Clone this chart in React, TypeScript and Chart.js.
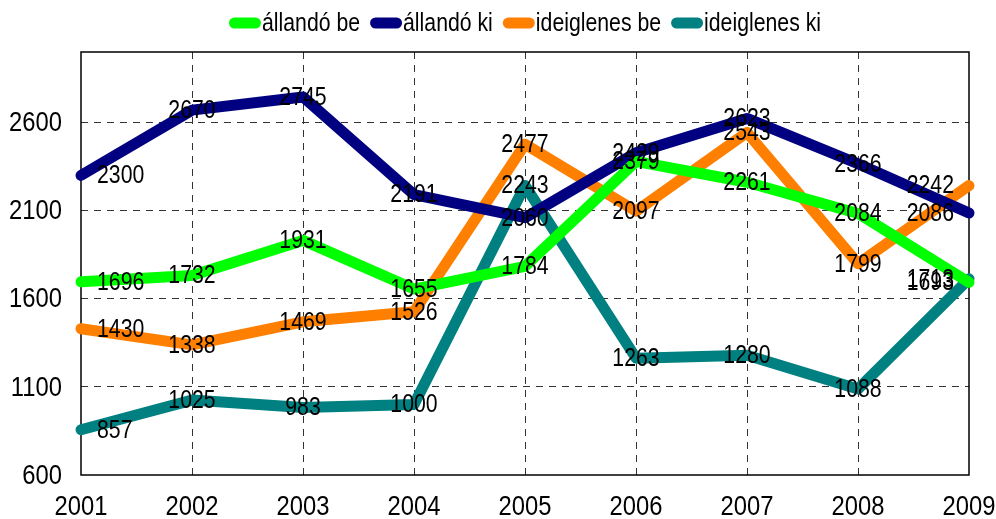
import React, { useEffect, useRef } from 'react';
import { Chart, registerables } from 'chart.js';

Chart.register(...registerables);

const years = ['2001', '2002', '2003', '2004', '2005', '2006', '2007', '2008', '2009'];
const allandoBe = [1696, 1732, 1931, 1655, 1784, 2379, 2261, 2084, 1693];
const allandoKi = [2300, 2670, 2745, 2191, 2060, 2429, 2623, 2366, 2086];
const ideiglenesBe = [1430, 1338, 1469, 1526, 2477, 2097, 2543, 1799, 2242];
const ideiglenesKi = [857, 1025, 983, 1000, 2243, 1263, 1280, 1088, 1713];
const seriesNames = ['állandó be', 'állandó ki', 'ideiglenes be', 'ideiglenes ki'];
const seriesValues = [allandoBe, allandoKi, ideiglenesBe, ideiglenesKi];
const seriesColors = ['#00ff00', '#000080', '#ff8000', '#008080'];
const yTicks = [600, 1100, 1600, 2100, 2600];
const yMin = 600;
const yMax = 3000;

const FONT = "'Liberation Sans', Arial, sans-serif";
const SX = 0.85;

function narrowText(ctx: any, text: string, x: number, y: number, align: string, size: number) {
  ctx.save();
  ctx.font = `${size}px ${FONT}`;
  ctx.fillStyle = '#000';
  ctx.textBaseline = 'middle';
  ctx.textAlign = align;
  ctx.translate(x, y);
  ctx.scale(SX, 1);
  ctx.fillText(text, 0, 0);
  ctx.restore();
}

function narrowWidth(ctx: any, text: string, size: number) {
  ctx.save();
  ctx.font = `${size}px ${FONT}`;
  const w = ctx.measureText(text).width * SX;
  ctx.restore();
  return w;
}

const framePlugin = {
  id: 'frame',
  beforeDatasetsDraw(chart: any) {
    const { ctx, chartArea } = chart;
    ctx.save();
    ctx.strokeStyle = '#000';
    ctx.lineWidth = 1.5;
    ctx.strokeRect(chartArea.left, chartArea.top, chartArea.right - chartArea.left, chartArea.bottom - chartArea.top);
    ctx.restore();
  },
};

const tickLabelPlugin = {
  id: 'tickLabels',
  afterDraw(chart: any) {
    const { ctx } = chart;
    const xs = chart.scales.x;
    const ys = chart.scales.y;
    xs.ticks.forEach((t: any, i: number) => {
      narrowText(ctx, String(chart.data.labels[i]), xs.getPixelForTick(i), 507, 'center', 28);
    });
    ys.ticks.forEach((t: any) => {
      narrowText(ctx, String(t.value), ys.left + ys.width - 19, ys.getPixelForValue(t.value) + 1, 'right', 28);
    });
  },
};

const labelPlugin = {
  id: 'valueLabels',
  afterDatasetsDraw(chart: any) {
    const { ctx } = chart;
    chart.data.datasets.forEach((ds: any, di: number) => {
      const meta = chart.getDatasetMeta(di);
      meta.data.forEach((pt: any, i: number) => {
        const text = String(ds.data[i]);
        let x = pt.x;
        let align = 'center';
        if (i === 0) {
          align = 'left';
          x = pt.x + 16;
        } else if (i === meta.data.length - 1) {
          align = 'right';
          x = pt.x - 15;
        }
        narrowText(ctx, text, x, pt.y + 1, align, 25);
      });
    });
  },
};

const legendPlugin = {
  id: 'customLegend',
  afterDraw(chart: any) {
    const { ctx, chartArea } = chart;
    const size = 25;
    const pillW = 32;
    const lw = 11;
    const textGap = 1;
    const itemGap = 10;
    const widths = chart.data.datasets.map((ds: any) => narrowWidth(ctx, ds.label, size));
    const total = widths.reduce((a: number, w: number) => a + pillW + textGap + w, 0) + itemGap * (widths.length - 1);
    let x = (chartArea.left + chartArea.right) / 2 - total / 2;
    const y = 23;
    chart.data.datasets.forEach((ds: any, i: number) => {
      ctx.save();
      ctx.strokeStyle = ds.borderColor;
      ctx.lineWidth = lw;
      ctx.lineCap = 'round';
      ctx.beginPath();
      ctx.moveTo(x + lw / 2, y);
      ctx.lineTo(x + pillW - lw / 2, y);
      ctx.stroke();
      ctx.restore();
      narrowText(ctx, ds.label, x + pillW + textGap, y + 1, 'left', size);
      x += pillW + textGap + widths[i] + itemGap;
    });
  },
};

export default function App() {
  const ref = useRef<HTMLCanvasElement>(null);
  useEffect(() => {
    if (!ref.current) return;
    const chart = new Chart(ref.current, {
      type: 'line',
      data: {
        labels: years,
        datasets: seriesNames.map((name, i) => ({
          label: name,
          data: seriesValues[i],
          borderColor: seriesColors[i],
          backgroundColor: seriesColors[i],
          borderWidth: 11,
          borderCapStyle: 'round',
          borderJoinStyle: 'round',
          pointRadius: 0,
          pointHoverRadius: 0,
          tension: 0,
          fill: false,
          clip: false,
        })),
      },
      options: {
        responsive: false,
        animation: false,
        events: [],
        layout: { padding: { top: 52, right: 27, bottom: 0, left: 0 } },
        plugins: {
          legend: { display: false },
          tooltip: { enabled: false },
        },
        scales: {
          x: {
            offset: false,
            grid: {
              drawTicks: false,
              color: (c: any) => (c.index === 0 || c.index === years.length - 1 ? 'rgba(0,0,0,0)' : '#333'),
              lineWidth: 1,
            },
            border: { display: false, dash: [7, 6] },
            ticks: { display: false, autoSkip: false },
            afterFit: (s: any) => {
              s.height = 44;
            },
          },
          y: {
            min: yMin,
            max: yMax,
            grid: {
              drawTicks: false,
              color: (c: any) => (c.tick && c.tick.value === yMin ? 'rgba(0,0,0,0)' : '#333'),
              lineWidth: 1,
            },
            border: { display: false, dash: [7, 6] },
            ticks: { display: false },
            afterBuildTicks: (s: any) => {
              s.ticks = yTicks.map((v) => ({ value: v }));
            },
            afterFit: (s: any) => {
              s.width = 81;
            },
          },
        },
      } as any,
      plugins: [framePlugin, labelPlugin, tickLabelPlugin, legendPlugin],
    });
    return () => chart.destroy();
  }, []);
  return (
    <div style={{ position: 'absolute', left: 0, top: 0, width: 996, height: 519 }}>
      <canvas ref={ref} width={996} height={519} />
    </div>
  );
}
